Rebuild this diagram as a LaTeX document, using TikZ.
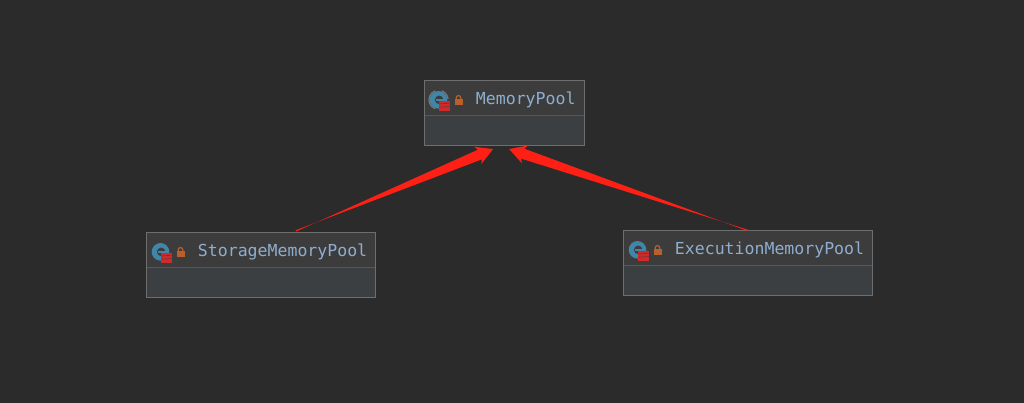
\documentclass[tikz,border=0pt]{standalone}
\usepackage{fontspec}
\setmonofont{DejaVu Sans Mono}
\usetikzlibrary{calc}
\definecolor{bgdark}{HTML}{2B2B2B}
\definecolor{headfill}{HTML}{3C3C3C}
\definecolor{bodyfill}{HTML}{3B3F42}
\definecolor{boxline}{HTML}{6E6E6E}
\definecolor{headline}{HTML}{585858}
\definecolor{labelblue}{HTML}{8FAECF}
\definecolor{iconblue}{HTML}{3F86A8}
\definecolor{iconred}{HTML}{D02A2A}
\definecolor{iconring}{HTML}{777777}
\definecolor{lockbrown}{HTML}{B85F30}
\definecolor{arrowred}{HTML}{FF2015}
\tikzset{
  classbox/.style={fill=bodyfill, minimum height=48.4pt, inner sep=0pt, outer sep=0pt, anchor=north west},
  classname/.style={text=labelblue, font=\ttfamily\fontsize{12.4}{14}\selectfont, inner sep=0pt, anchor=base west},
  redarrow/.style={fill=arrowred, draw=none}
}
% one class box: name, top left corner, width in pt, label
\newcommand{\classnode}[4]{
\node[classbox, minimum width=#3pt] (#1) at (#2) {};
\fill[headfill] (#1.north west) rectangle ([yshift=-26pt]#1.north east);
\draw[headline, line width=0.75pt] ([yshift=-26pt]#1.north west) -- ([yshift=-26pt]#1.north east);
\draw[boxline, line width=0.75pt] (#1.north west) rectangle (#1.south east);
\fill[iconblue] ([shift={(10.5pt,-14.5pt)}]#1.north west) circle (6.6pt);
\fill[headfill] ([shift={(11pt,-14.5pt)}]#1.north west) circle (3.2pt);
\fill[iconblue] ([shift={(8.6pt,-15.3pt)}]#1.north west) rectangle ([shift={(15pt,-13.9pt)}]#1.north west);
\fill[headfill] ([shift={(11pt,-16.1pt)}]#1.north west) rectangle ([shift={(17pt,-15.3pt)}]#1.north west);
\fill[iconred] ([shift={(11pt,-15.1pt)}]#1.north west) rectangle ([shift={(18.8pt,-22.5pt)}]#1.north west);
\draw[headfill, line width=0.3pt] ([shift={(11pt,-17.6pt)}]#1.north west) -- ++(7.8pt,0.4pt);
\draw[headfill, line width=0.3pt] ([shift={(11pt,-20pt)}]#1.north west) -- ++(7.8pt,0.4pt);
\fill[lockbrown] ([shift={(22.5pt,-13.9pt)}]#1.north west) rectangle ([shift={(28.5pt,-18.4pt)}]#1.north west);
\draw[lockbrown, line width=0.9pt] ([shift={(23.8pt,-14pt)}]#1.north west) -- ++(0,1pt) arc (180:0:1.7pt) -- ++(0,-1pt);
\node[classname] (#1label) at ([shift={(38.4pt,-18.1pt)}]#1.north west) {#4};
}
% tapered arrow: from, to
\newcommand{\taperarrow}[2]{
\fill[redarrow] ($(#1)!0.5pt!90:(#2)$)
  -- ($($(#2)!10.8pt!(#1)$)!3.9pt!-90:(#2)$)
  -- ($($(#2)!12.5pt!(#1)$)!7pt!-90:(#2)$)
  -- (#2)
  -- ($($(#2)!12.5pt!(#1)$)!7pt!90:(#2)$)
  -- ($($(#2)!10.8pt!(#1)$)!3.9pt!90:(#2)$)
  -- ($(#1)!0.5pt!-90:(#2)$)
  -- cycle;
}
\begin{document}
\begin{tikzpicture}[x=0.75pt, y=-0.75pt]
\useasboundingbox[fill=bgdark] (0,0) rectangle (1024,403);
\classnode{memorypool}{424.5,80.5}{119.75}{MemoryPool}
\classnode{storagepool}{146.5,232.5}{171.75}{StorageMemoryPool}
\classnode{executionpool}{623.5,230.5}{186.75}{ExecutionMemoryPool}
% ring round the icon of the abstract class
\draw[iconring, line width=0.9pt] ([shift={(10.5pt,-14.5pt)}]memorypool.north west) ++(110:7.2pt) arc (110:250:7.2pt);
\draw[iconring, line width=0.9pt] ([shift={(10.5pt,-14.5pt)}]memorypool.north west) ++(70:7.2pt) arc (70:5:7.2pt);
\coordinate (storagetail) at ([xshift=112pt,yshift=1.2pt]storagepool.north west);
\coordinate (executiontail) at ([xshift=93.4pt]executionpool.north west);
\coordinate (storagehead) at ([shift={(-8.4pt,-3pt)}]memorypool.south);
\coordinate (executionhead) at ([shift={(3.6pt,-3pt)}]memorypool.south);
\taperarrow{storagetail}{storagehead}
\taperarrow{executiontail}{executionhead}
\end{tikzpicture}
\end{document}
